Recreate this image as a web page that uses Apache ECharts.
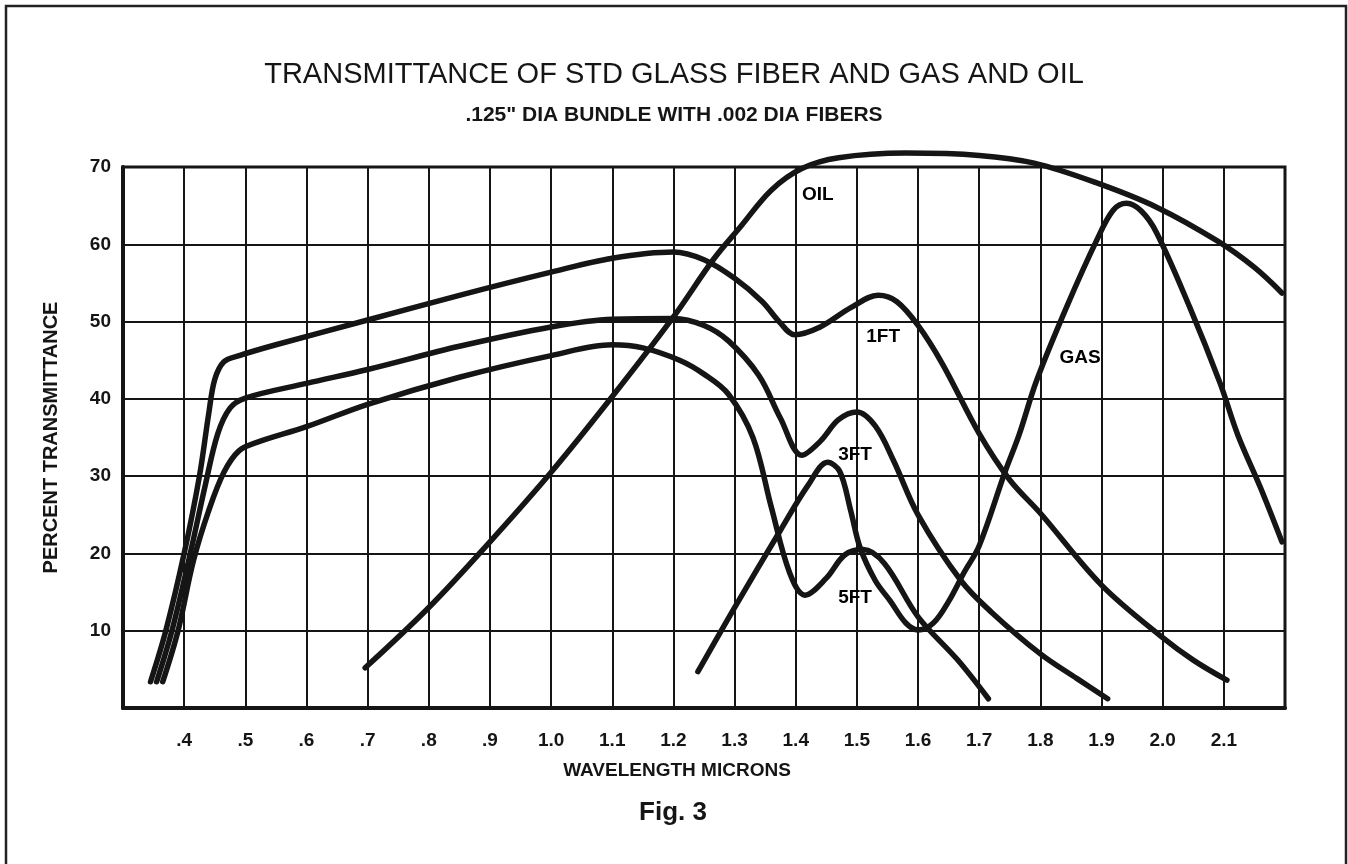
<!DOCTYPE html>
<html>
<head>
<meta charset="utf-8">
<script src="https://cdn.jsdelivr.net/npm/echarts@6/dist/echarts.min.js"></script>
<style>
  html, body { margin: 0; padding: 0; background: #fff; }
  #chart { width: 1348px; height: 864px; }
</style>
</head>
<body>
<div id="chart"></div>
<script>
// wavelength (microns), percent transmittance
const oneFt = [
  [0.345, 3.4], [0.37, 10], [0.40, 20], [0.425, 30], [0.44, 38], [0.45, 42.5], [0.465, 44.8],
  [0.49, 45.6], [0.55, 47], [0.7, 50.2], [0.85, 53.4], [1.0, 56.4], [1.1, 58.2], [1.2, 59],
  [1.25, 58], [1.3, 55.6], [1.345, 52.6], [1.375, 49.8], [1.398, 48.3], [1.44, 49.3], [1.49, 51.8],
  [1.535, 53.4], [1.565, 52.6], [1.6, 49.5], [1.64, 44.5], [1.7, 35.5], [1.75, 29.5], [1.8, 25.2],
  [1.9, 15.9], [2.0, 9.1], [2.05, 6.2], [2.105, 3.6]
];
const threeFt = [
  [0.355, 3.4], [0.38, 10], [0.41, 20], [0.435, 29], [0.455, 35.5], [0.475, 38.8], [0.5, 40.1],
  [0.6, 42], [0.7, 43.8], [0.85, 46.8], [1.0, 49.3], [1.1, 50.3], [1.2, 50.4], [1.25, 49.5],
  [1.29, 47.5], [1.34, 43], [1.375, 37.5], [1.41, 32.7], [1.44, 34.5], [1.47, 37.3],
  [1.5, 38.3], [1.53, 36.5], [1.56, 32], [1.6, 25], [1.67, 16.5], [1.72, 12.4], [1.8, 7],
  [1.86, 3.8], [1.91, 1.2]
];
const fiveFt = [
  [0.365, 3.4], [0.39, 10], [0.415, 19], [0.44, 25.5], [0.465, 30.5], [0.49, 33.3], [0.52, 34.4],
  [0.6, 36.4], [0.7, 39.3], [0.85, 42.8], [1.0, 45.6], [1.1, 47], [1.15, 46.6], [1.21, 45],
  [1.25, 43.2], [1.29, 40.6], [1.33, 35], [1.36, 26], [1.39, 17.5], [1.415, 14.6], [1.45, 16.8],
  [1.48, 19.8], [1.51, 20.5], [1.545, 18.7], [1.6, 11.8], [1.665, 6.2], [1.715, 1.2]
];
const gas = [
  [1.24, 4.7], [1.3, 13], [1.375, 23], [1.42, 28.8], [1.452, 31.8], [1.472, 30.6], [1.49, 25.5],
  [1.505, 20.8], [1.53, 16.5], [1.555, 13.8], [1.58, 11], [1.6, 10.1], [1.625, 11], [1.65, 13.8],
  [1.675, 17.5], [1.7, 21], [1.742, 30.5], [1.765, 35.3], [1.794, 42.4], [1.843, 51.9],
  [1.892, 60.5], [1.919, 64.4], [1.941, 65.3], [1.965, 64.3], [1.99, 61.5], [2.044, 51.9],
  [2.094, 42], [2.123, 35.3], [2.16, 28.5], [2.195, 21.5]
];
const oil = [
  [0.696, 5.2], [0.8, 13], [0.9, 21.5], [1.0, 30.5], [1.1, 40.3], [1.2, 50.6],
  [1.265, 58], [1.31, 62.3], [1.36, 67], [1.41, 69.8], [1.47, 71.2], [1.58, 71.8], [1.7, 71.5],
  [1.79, 70.5], [1.89, 68], [1.99, 64.8], [2.09, 60.4], [2.15, 57], [2.195, 53.7]
];

// curve labels drawn inside the plot
const curveNames = ["OIL", "1FT", "GAS", "3FT", "5FT"];
const curveLabelX = [1.436, 1.543, 1.865, 1.497, 1.497];
const curveLabelY = [66.4, 48.0, 45.3, 32.8, 14.2];

const ink = "#151515";
const font = "'Liberation Sans', Arial, Helvetica, sans-serif";

const curve = (data) => ({
  type: "line",
  data: data,
  smooth: 0.35,
  symbol: "none",
  clip: false,
  lineStyle: { color: ink, width: 5.5, cap: "round", join: "round" },
  z: 3,
});

const option = {
  backgroundColor: "#fff",
  animation: false,
  title: {
    text: "TRANSMITTANCE OF STD GLASS FIBER AND GAS AND OIL",
    subtext: '.125" DIA BUNDLE WITH .002 DIA FIBERS',
    left: "center",
    top: 55,
    itemGap: 16,
    textStyle: { color: ink, fontSize: 29, fontWeight: "normal", fontFamily: font },
    subtextStyle: { color: ink, fontSize: 21, fontWeight: "bold", fontFamily: font },
  },
  grid: { left: 123, right: 63, top: 167, bottom: 156, show: true, borderColor: ink, borderWidth: 3 },
  xAxis: {
    type: "value",
    min: 0.3,
    max: 2.2,
    interval: 0.1,
    axisLine: { lineStyle: { color: ink, width: 4 } },
    axisTick: { show: false },
    splitLine: { lineStyle: { color: ink, width: 2 } },
    axisLabel: {
      margin: 23,
      color: ink,
      fontSize: 19,
      fontWeight: "bold",
      fontFamily: font,
      formatter(v) {
        const r = Math.round(v * 10) / 10;
        if (r <= 0.3 || r >= 2.2) return "";
        return r < 1 ? "." + Math.round(r * 10) : r.toFixed(1);
      },
    },
  },
  yAxis: {
    type: "value",
    min: 0,
    max: 70,
    interval: 10,
    name: "PERCENT TRANSMITTANCE",
    nameLocation: "middle",
    nameGap: 62,
    nameRotate: 90,
    nameTextStyle: { color: ink, fontSize: 20, fontWeight: "bold", fontFamily: font },
    axisLine: { lineStyle: { color: ink, width: 4 } },
    axisTick: { show: false },
    splitLine: { lineStyle: { color: ink, width: 2 } },
    axisLabel: {
      margin: 12,
      color: ink,
      fontSize: 19,
      fontWeight: "bold",
      fontFamily: font,
      formatter(v) { return v === 0 ? "" : String(v); },
    },
  },
  series: [
    curve(oneFt),
    curve(threeFt),
    curve(fiveFt),
    curve(gas),
    curve(oil),
    {
      type: "scatter",
      symbolSize: 0,
      z: 4,
      itemStyle: { opacity: 1 },
      data: curveNames.map((n, i) => ({ name: n, value: [curveLabelX[i], curveLabelY[i]] })),
      label: {
        show: true,
        position: "inside",
        formatter: "{b}",
        color: "#000",
        fontSize: 19,
        fontWeight: "bold",
        fontFamily: font,
      },
    },
  ],
  graphic: [
    {
      type: "rect",
      shape: { x: 6, y: 6, width: 1340, height: 870 },
      style: { fill: "none", stroke: "#222", lineWidth: 2.5 },
    },
    {
      type: "text",
      x: 677,
      y: 771,
      style: {
        text: "WAVELENGTH MICRONS",
        fill: ink,
        font: "bold 19px " + font,
        textAlign: "center",
        textVerticalAlign: "middle",
      },
    },
    {
      type: "text",
      x: 673,
      y: 813,
      style: {
        text: "Fig. 3",
        fill: ink,
        font: "bold 26px " + font,
        textAlign: "center",
        textVerticalAlign: "middle",
      },
    },
  ],
};

const myChart = echarts.init(document.getElementById("chart"));
myChart.setOption(option);
</script>
</body>
</html>
